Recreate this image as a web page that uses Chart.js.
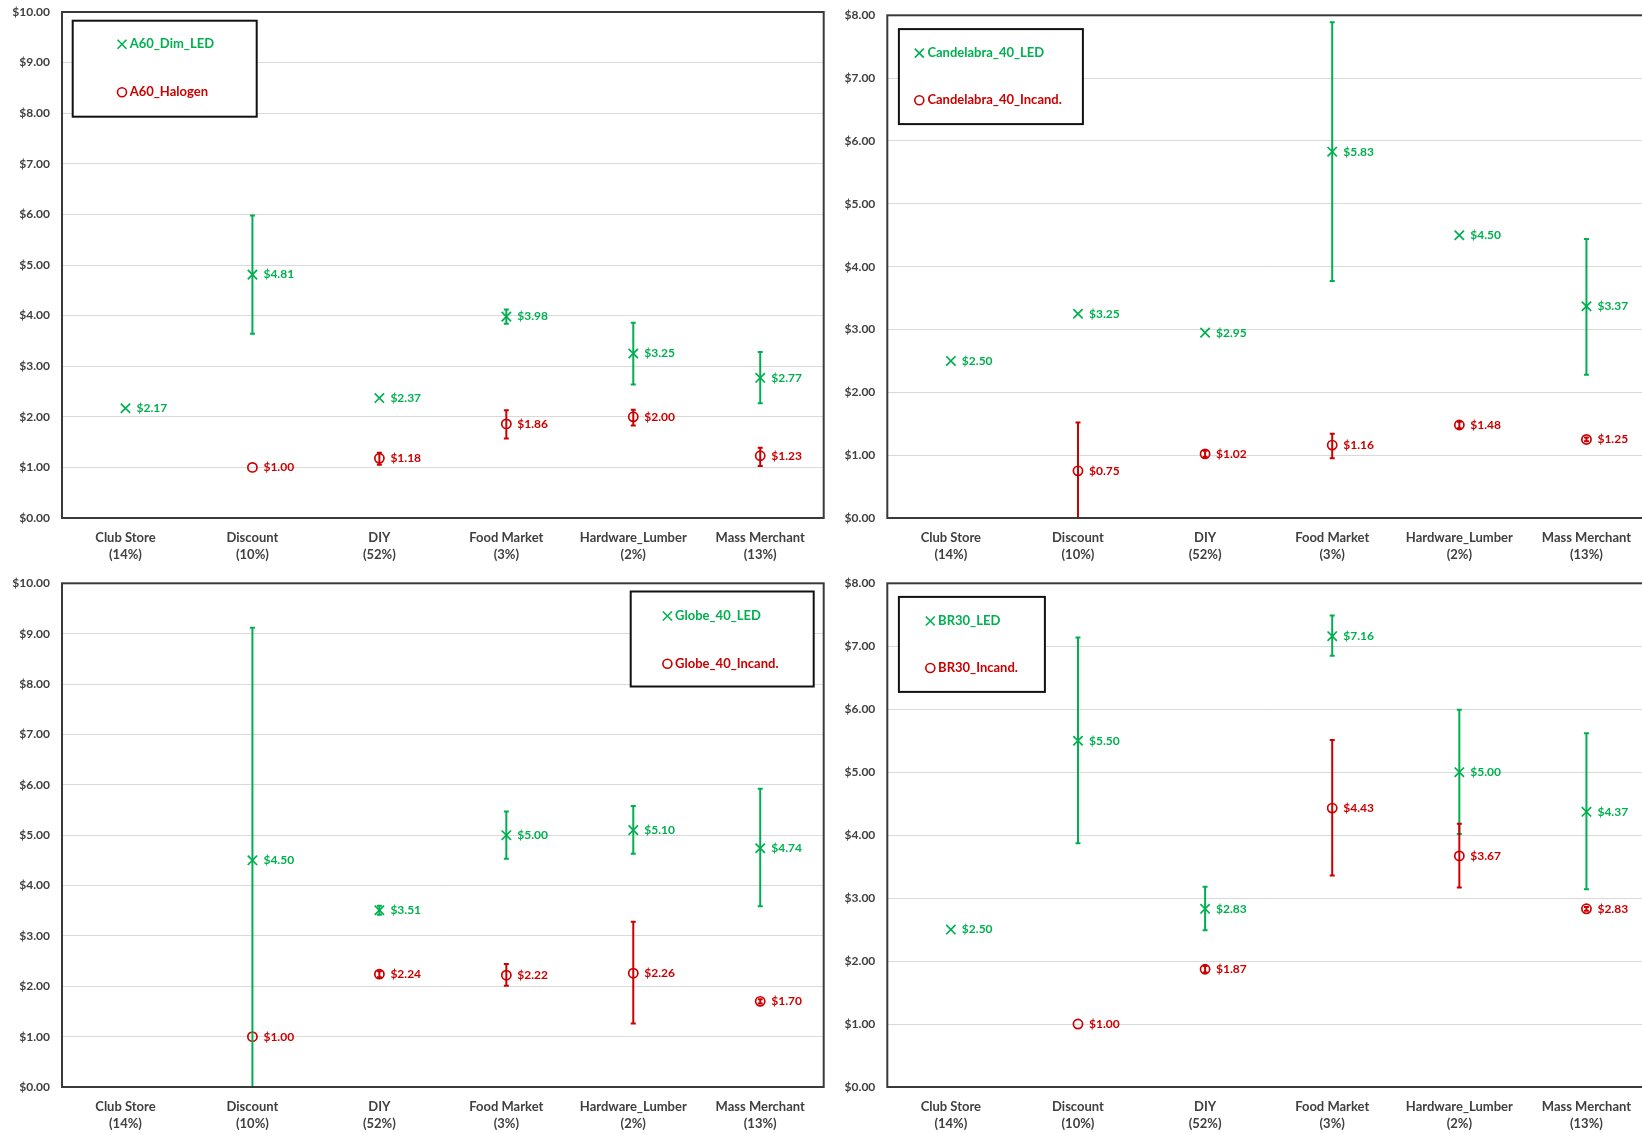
<!DOCTYPE html>
<html><head><meta charset="utf-8">
<script src="https://cdn.jsdelivr.net/npm/chart.js@4.4.1/dist/chart.umd.min.js"></script>
<style>
html,body{margin:0;padding:0;background:#fff;overflow:hidden;width:1642px;height:1133px;}
canvas{position:absolute;}
</style></head><body>
<canvas id="c1" width="832" height="570" style="left:0px;top:0px"></canvas>
<canvas id="c2" width="838" height="570" style="left:822px;top:0px"></canvas>
<canvas id="c3" width="832" height="563" style="left:0px;top:570px"></canvas>
<canvas id="c4" width="838" height="563" style="left:822px;top:570px"></canvas>
<script>
// ---- data ----
const catNames  = ['Club Store','Discount','DIY','Food Market','Hardware_Lumber','Mass Merchant'];
const catShares = ['(14%)','(10%)','(52%)','(3%)','(2%)','(13%)'];

const a60LedName = 'A60_Dim_LED';
const a60LedMean = [2.17, 4.81, 2.37, 3.98, 3.25, 2.77];
const a60LedLow  = [null, 3.64, null, 3.84, 2.64, 2.27];
const a60LedHigh = [null, 5.98, null, 4.12, 3.86, 3.28];
const a60HalName = 'A60_Halogen';
const a60HalMean = [null, 1.00, 1.18, 1.86, 2.00, 1.23];
const a60HalLow  = [null, null, 1.05, 1.57, 1.83, 1.03];
const a60HalHigh = [null, null, 1.29, 2.13, 2.14, 1.39];

const candLedName = 'Candelabra_40_LED';
const candLedMean = [2.50, 3.25, 2.95, 5.83, 4.50, 3.37];
const candLedLow  = [null, null, null, 3.77, null, 2.28];
const candLedHigh = [null, null, null, 7.89, null, 4.44];
const candIncName = 'Candelabra_40_Incand.';
const candIncMean = [null, 0.75, 1.02, 1.16, 1.48, 1.25];
const candIncLow  = [null, -0.02, 0.97, 0.95, 1.43, 1.22];
const candIncHigh = [null, 1.52, 1.07, 1.34, 1.53, 1.28];

const globeLedName = 'Globe_40_LED';
const globeLedMean = [null, 4.50, 3.51, 5.00, 5.10, 4.74];
const globeLedLow  = [null, -0.12, 3.42, 4.53, 4.63, 3.59];
const globeLedHigh = [null, 9.12, 3.60, 5.47, 5.58, 5.92];
const globeIncName = 'Globe_40_Incand.';
const globeIncMean = [null, 1.00, 2.24, 2.22, 2.26, 1.70];
const globeIncLow  = [null, null, 2.18, 2.01, 1.26, 1.66];
const globeIncHigh = [null, null, 2.30, 2.44, 3.28, 1.74];

const brLedName = 'BR30_LED';
const brLedMean = [2.50, 5.50, 2.83, 7.16, 5.00, 4.37];
const brLedLow  = [null, 3.87, 2.49, 6.85, 4.02, 3.14];
const brLedHigh = [null, 7.14, 3.18, 7.49, 5.99, 5.62];
const brIncName = 'BR30_Incand.';
const brIncMean = [null, 1.00, 1.87, 4.43, 3.67, 2.83];
const brIncLow  = [null, null, 1.82, 3.36, 3.17, 2.80];
const brIncHigh = [null, null, 1.92, 5.51, 4.18, 2.86];

const yMaxA60 = 10, yMaxCand = 8, yMaxGlobe = 10, yMaxBR = 8;

// ---- styles ----
const GREEN = '#00B050';
const RED = '#CC0000';
const AXIS_TEXT = '#404040';
const FONT = 'Lato';

const errorBarPlugin = {
  id: 'errbars',
  afterDatasetsDraw(chart) {
    const {ctx, chartArea: a} = chart;
    const y = chart.scales.y;
    ctx.save();
    ctx.beginPath();
    ctx.rect(a.left, a.top, a.right - a.left, a.bottom - a.top);
    ctx.clip();
    chart.data.datasets.forEach((ds, i) => {
      const meta = chart.getDatasetMeta(i);
      meta.data.forEach((pt, j) => {
        const lo = ds.errLow[j], hi = ds.errHigh[j];
        if (lo == null || hi == null || ds.data[j] == null) return;
        const x = pt.x, y1 = y.getPixelForValue(lo), y2 = y.getPixelForValue(hi);
        ctx.strokeStyle = ds.borderColor;
        ctx.lineWidth = 2;
        ctx.beginPath();
        ctx.moveTo(x, y1); ctx.lineTo(x, y2);
        ctx.moveTo(x - 2.5, y1); ctx.lineTo(x + 2.5, y1);
        ctx.moveTo(x - 2.5, y2); ctx.lineTo(x + 2.5, y2);
        ctx.stroke();
      });
    });
    ctx.restore();
  }
};

const valueLabelPlugin = {
  id: 'vlabels',
  afterDatasetsDraw(chart) {
    const ctx = chart.ctx;
    ctx.save();
    ctx.font = 'bold 12px ' + FONT;
    ctx.textBaseline = 'middle';
    ctx.textAlign = 'left';
    chart.data.datasets.forEach((ds, i) => {
      const meta = chart.getDatasetMeta(i);
      meta.data.forEach((pt, j) => {
        const v = ds.data[j];
        if (v == null) return;
        ctx.fillStyle = ds.borderColor;
        ctx.fillText('$' + v.toFixed(2), pt.x + 11, pt.y);
      });
    });
    ctx.restore();
  }
};

const framePlugin = {
  id: 'frame',
  afterDraw(chart) {
    const {ctx, chartArea: a} = chart;
    const o = chart.options.plugins.boxLegend;
    ctx.save();
    ctx.strokeStyle = '#3a3a3a';
    ctx.lineWidth = 2;
    ctx.strokeRect(a.left, a.top, a.right - a.left, a.bottom - a.top);
    // legend box
    const bx = o.right ? a.right - o.dx - o.w : a.left + o.dx;
    const by = a.top + o.dy;
    ctx.fillStyle = '#ffffff';
    ctx.fillRect(bx, by, o.w, o.h);
    ctx.strokeStyle = '#111111';
    ctx.lineWidth = 2;
    ctx.strokeRect(bx, by, o.w, o.h);
    ctx.font = 'bold 13px ' + FONT;
    ctx.textBaseline = 'middle';
    ctx.textAlign = 'left';
    chart.data.datasets.forEach((ds, i) => {
      const ry = by + o.rows[i];
      const mx = bx + o.mx;
      ctx.strokeStyle = ds.borderColor;
      ctx.lineWidth = 1.6;
      ctx.beginPath();
      if (ds.pointStyle === 'crossRot') {
        ctx.moveTo(mx - 4.5, ry - 4.5); ctx.lineTo(mx + 4.5, ry + 4.5);
        ctx.moveTo(mx + 4.5, ry - 4.5); ctx.lineTo(mx - 4.5, ry + 4.5);
      } else {
        ctx.arc(mx, ry, 4.5, 0, Math.PI * 2);
      }
      ctx.stroke();
      ctx.fillStyle = ds.borderColor;
      ctx.fillText(ds.label, bx + o.tx, ry);
    });
    ctx.restore();
  }
};

function makeChart(id, p) {
  const labels = catNames.map((n, i) => [n, catShares[i]]);
  const mk = (label, mean, lo, hi, color, style, r) => ({
    label, data: mean, errLow: lo, errHigh: hi,
    borderColor: color, backgroundColor: 'rgba(0,0,0,0)',
    pointStyle: style, pointRadius: r, pointBorderWidth: 1.7,
    pointHoverRadius: r, showLine: false
  });
  new Chart(document.getElementById(id), {
    type: 'line',
    data: {
      labels,
      datasets: [
        mk(p.ledName, p.ledMean, p.ledLow, p.ledHigh, GREEN, 'crossRot', 6.6),
        mk(p.incName, p.incMean, p.incLow, p.incHigh, RED, 'circle', 4.6)
      ]
    },
    options: {
      responsive: false, animation: false, devicePixelRatio: 1,
      layout: { padding: { left: 0, top: p.padTop, right: p.padRight, bottom: p.padBottom } },
      plugins: {
        legend: { display: false }, tooltip: { enabled: false },
        boxLegend: p.legend
      },
      scales: {
        x: {
          offset: true,
          grid: { display: false, drawTicks: false },
          border: { display: false },
          ticks: { color: AXIS_TEXT, font: { family: FONT, size: 13, weight: 'bold', lineHeight: 1.3 }, padding: 11, maxRotation: 0, autoSkip: false },
          afterFit: s => { s.height = p.xH; s.paddingLeft = 0; s.paddingRight = 0; }
        },
        y: {
          min: 0, max: p.yMax,
          grid: { color: '#D9D9D9', lineWidth: 1, drawTicks: false },
          border: { display: false },
          ticks: { stepSize: 1, color: AXIS_TEXT, padding: 12, font: { family: FONT, size: 12, weight: 'bold' },
                   callback: v => '$' + Number(v).toFixed(2) },
          afterFit: s => { s.width = p.yW; s.paddingTop = 0; s.paddingBottom = 0; }
        }
      }
    },
    plugins: [errorBarPlugin, valueLabelPlugin, framePlugin]
  });
}

makeChart('c1', {
  ledName: a60LedName, ledMean: a60LedMean, ledLow: a60LedLow, ledHigh: a60LedHigh,
  incName: a60HalName, incMean: a60HalMean, incLow: a60HalLow, incHigh: a60HalHigh,
  yMax: yMaxA60, padTop: 12, padRight: 7.5, padBottom: 4, xH: 48, yW: 62,
  legend: { right: false, dx: 10.7, dy: 8.7, w: 184, h: 96, mx: 49.3, tx: 57, rows: [23.6, 71.6] }
});
makeChart('c2', {
  ledName: candLedName, ledMean: candLedMean, ledLow: candLedLow, ledHigh: candLedHigh,
  incName: candIncName, incMean: candIncMean, incLow: candIncLow, incHigh: candIncHigh,
  yMax: yMaxCand, padTop: 15.3, padRight: 10, padBottom: 4, xH: 48, yW: 65.3,
  legend: { right: false, dx: 11.6, dy: 13.8, w: 184, h: 95, mx: 20.4, tx: 28.5, rows: [24, 71.2] }
});
makeChart('c3', {
  ledName: globeLedName, ledMean: globeLedMean, ledLow: globeLedLow, ledHigh: globeLedHigh,
  incName: globeIncName, incMean: globeIncMean, incLow: globeIncLow, incHigh: globeIncHigh,
  yMax: yMaxGlobe, padTop: 13.3, padRight: 7.5, padBottom: 3, xH: 43, yW: 62,
  legend: { right: true, dx: 10, dy: 8.2, w: 183, h: 95, mx: 36.7, tx: 44.4, rows: [24.5, 72.2] }
});
makeChart('c4', {
  ledName: brLedName, ledMean: brLedMean, ledLow: brLedLow, ledHigh: brLedHigh,
  incName: brIncName, incMean: brIncMean, incLow: brIncLow, incHigh: brIncHigh,
  yMax: yMaxBR, padTop: 13.3, padRight: 10, padBottom: 3, xH: 43, yW: 65.3,
  legend: { right: false, dx: 11.6, dy: 13.6, w: 146, h: 95, mx: 31.4, tx: 39.2, rows: [24.1, 71.1] }
});
</script>
</body></html>
